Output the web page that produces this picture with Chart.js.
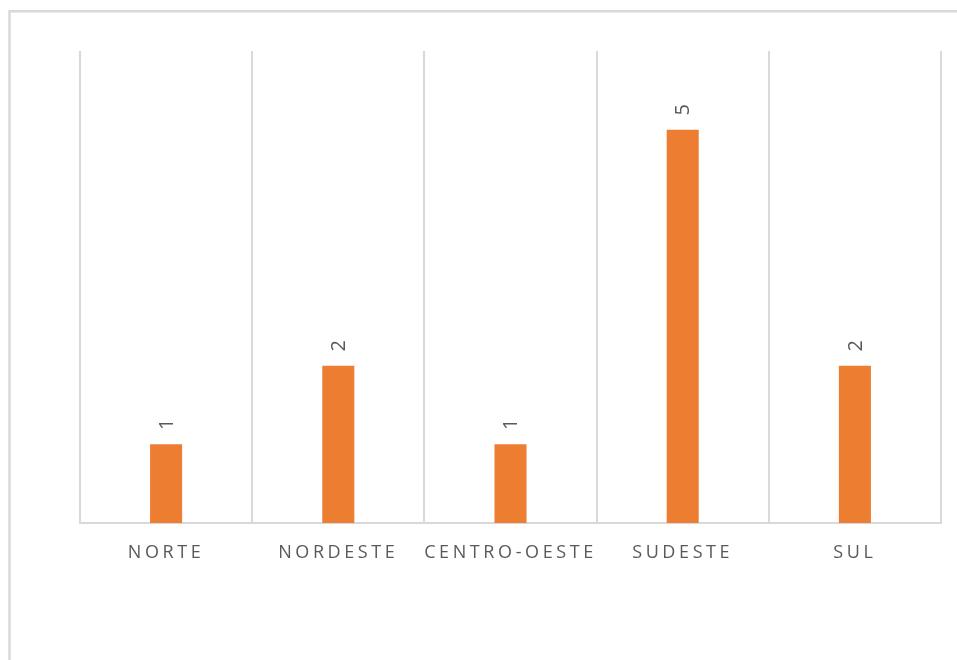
<!DOCTYPE html>
<html>
<head>
<meta charset="utf-8">
<script src="https://cdn.jsdelivr.net/npm/chart.js@4/dist/chart.umd.min.js"></script>
<style>
  html, body { margin: 0; padding: 0; background: #ffffff; overflow: hidden; }
  #wrap { position: relative; width: 957px; height: 660px; }
  canvas { display: block; }
</style>
</head>
<body>
<div id="wrap"><canvas id="c" width="957" height="660"></canvas></div>
<script>
const categories = ["NORTE", "NORDESTE", "CENTRO-OESTE", "SUDESTE", "SUL"];
const values = [1, 2, 1, 5, 2];

const LABEL_FONT = '"Open Sans", "Liberation Sans", sans-serif';

const frame = {
  id: 'frame',
  beforeDraw(chart) {
    const ctx = chart.ctx;
    ctx.save();
    ctx.strokeStyle = '#d9d9d9';
    ctx.lineWidth = 2.5;
    ctx.strokeRect(9.5, 11.3, 2000, 2000);
    ctx.restore();
    ctx.letterSpacing = '3.6px';
  }
};

const dataLabels = {
  id: 'dataLabels',
  afterDatasetsDraw(chart) {
    const ctx = chart.ctx;
    const meta = chart.getDatasetMeta(0);
    ctx.save();
    ctx.letterSpacing = '0px';
    ctx.fillStyle = '#595959';
    ctx.font = '20px ' + LABEL_FONT;
    ctx.textAlign = 'center';
    ctx.textBaseline = 'middle';
    meta.data.forEach((bar, i) => {
      ctx.save();
      ctx.translate(bar.x + 1, bar.y - 20);
      ctx.rotate(-Math.PI / 2);
      ctx.fillText(String(chart.data.datasets[0].data[i]), 0, 0);
      ctx.restore();
    });
    ctx.restore();
  }
};

new Chart(document.getElementById('c'), {
  type: 'bar',
  data: {
    labels: categories,
    datasets: [{
      data: values,
      backgroundColor: '#ED7D31',
      borderWidth: 0,
      barPercentage: 0.186,
      categoryPercentage: 1
    }]
  },
  options: {
    responsive: false,
    devicePixelRatio: 1,
    animation: false,
    layout: { padding: { left: 80, right: 16, top: 51, bottom: 0 } },
    plugins: { legend: { display: false }, tooltip: { enabled: false } },
    scales: {
      x: {
        grid: { display: true, offset: true, color: '#d9d9d9', lineWidth: 2, drawTicks: false },
        border: { display: true, color: '#d9d9d9', width: 2 },
        ticks: {
          color: '#595959',
          font: { family: LABEL_FONT, size: 18 },
          padding: 19,
          autoSkip: false,
          maxRotation: 0,
          minRotation: 0
        },
        afterFit(scale) { scale.height = 137; }
      },
      y: {
        display: false,
        min: 0,
        max: 6
      }
    }
  },
  plugins: [frame, dataLabels]
});
</script>
</body>
</html>
